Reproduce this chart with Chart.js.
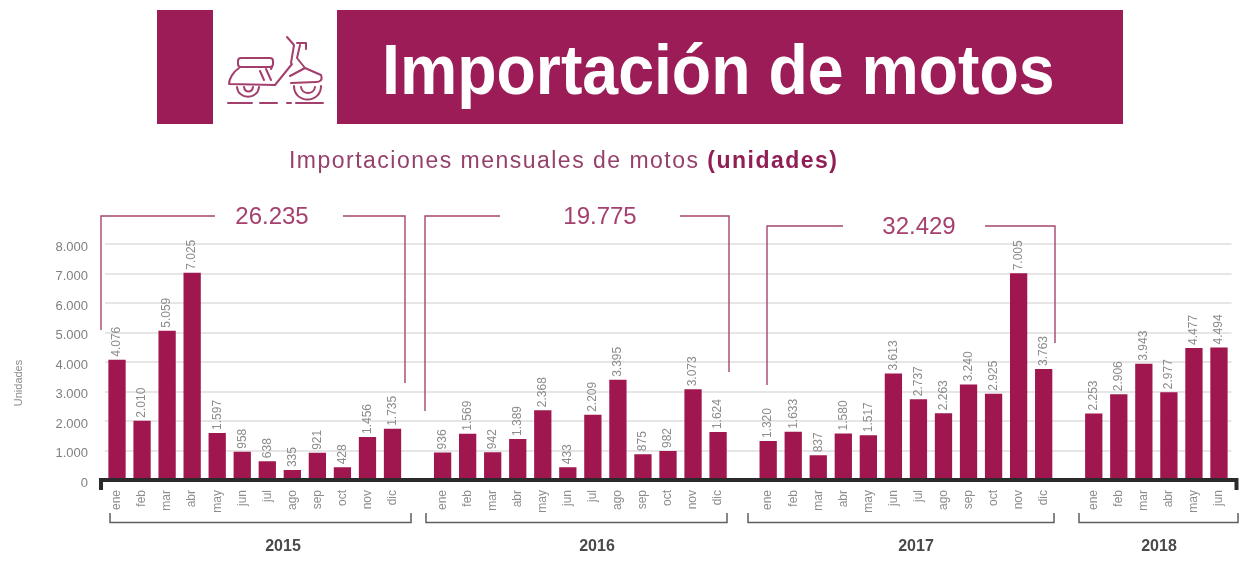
<!DOCTYPE html>
<html lang="es"><head><meta charset="utf-8">
<style>
html,body{margin:0;padding:0;background:#fff;overflow:hidden}
#wrap{position:relative;width:1248px;height:561px;font-family:"Liberation Sans",Arial,sans-serif}
.band{position:absolute;background:#9b1c56}
#title{position:absolute;left:382px;top:30px;font:bold 70px "Liberation Sans",Arial,sans-serif;color:#fff;white-space:nowrap;transform:scaleX(.92);transform-origin:0 0}
#sub{position:absolute;left:289px;top:147px;font:23px "Liberation Sans",Arial,sans-serif;color:#96406c;white-space:nowrap;letter-spacing:1.48px}
#sub b{color:#8f1f54}
#icon{position:absolute;left:0;top:0}
canvas{position:absolute;left:0;top:0}
</style></head><body>
<div id="wrap">
<canvas id="c" width="1248" height="561"></canvas>
<div class="band" style="left:157px;top:10px;width:56px;height:114px"></div>
<div class="band" style="left:337px;top:10px;width:786px;height:114px"></div>
<svg id="icon" width="1248" height="140" fill="none" stroke="#a33f6c" stroke-width="2" stroke-linecap="round" stroke-linejoin="round">
<path d="M228 103h24M260 103h17M287 103h4M296 103h27"/>
<rect x="238" y="58" width="35" height="9" rx="3"/>
<path d="M239 68C233 72 229 79 229 84L275 85L292 64"/>
<path d="M260 71l4 9M266 69l5 11M272 67l-1 2"/>
<path d="M287 37L294 45L291 63M297 43H306V49M300 45L297 58L305 68L321 75C323 80 320 82 316 82L291 83"/>
<path d="M290 76L305 68"/>
<path d="M237 87C238 100 258 100 259 87M244 87C245 93 252 93 253 87"/>
<path d="M294 86C294 104 321 104 321 86M301 87C302 95 314 95 315 87"/>
</svg>
<div id="title">Importación de motos</div>
<div id="sub">Importaciones mensuales de motos <b>(unidades)</b></div>
</div>
<script src="https://cdn.jsdelivr.net/npm/chart.js@4"></script>
<script>
const months = ["ene","feb","mar","abr","may","jun","jul","ago","sep","oct","nov","dic"];
const months2018 = ["ene","feb","mar","abr","may","jun"];
const values2015 = [4076,2010,5059,7025,1597,958,638,335,921,428,1456,1735];
const values2016 = [936,1569,942,1389,2368,433,2209,3395,875,982,3073,1624];
const values2017 = [1320,1633,837,1580,1517,3613,2737,2263,3240,2925,7005,3763];
const values2018 = [2253,2906,3943,2977,4477,4494];
const yTicks = [0,1000,2000,3000,4000,5000,6000,7000,8000];
const yearLabels = ["2015","2016","2017","2018"];
const totals = ["26.235","19.775","32.429"];

const categories = [...months," ",...months," ",...months," ",...months2018];
const series = [...values2015,null,...values2016,null,...values2017,null,...values2018];
const fmt = v => String(v).replace(/\B(?=(\d{3})+(?!\d))/g,".");

const GREY = "#8c8c8c", ACC = "#a5456f", BAR = "#a0164f";

const decor = {
  id:"decor",
  afterDraw(ch){
    const c = ch.ctx, y = ch.scales.y;
    c.save();
    c.fillStyle = GREY; c.font = '12px "Liberation Sans"'; c.textAlign="left"; c.textBaseline="middle";
    ch.getDatasetMeta(0).data.forEach((el,i)=>{
      if(series[i]==null) return;
      c.save(); c.translate(el.x,el.y-3); c.rotate(-Math.PI/2); c.fillText(fmt(series[i]),0,0); c.restore();
    });
    c.fillStyle="#808080"; c.font='13px "Liberation Sans"'; c.textAlign="right";
    yTicks.forEach(t=>c.fillText(fmt(t),88,y.getPixelForValue(t)+3));
    c.save(); c.translate(19,383); c.rotate(-Math.PI/2); c.textAlign="center";
    c.font='11px "Liberation Sans Narrow","Liberation Sans"'; c.fillStyle="#8c8c8c"; c.fillText("Unidades",0,0); c.restore();
    c.strokeStyle="#2a2a2a"; c.lineWidth=4; c.beginPath();
    c.moveTo(101,478); c.lineTo(101,490); c.moveTo(1236.5,478); c.lineTo(1236.5,490); c.stroke();
    c.beginPath(); c.moveTo(99,y.getPixelForValue(0)); c.lineTo(1238,y.getPixelForValue(0)); c.stroke();
    const yb=[[110,411,283],[426,727,597],[748,1054,916],[1079,1238,1159]];
    c.strokeStyle="#5f5f5f"; c.lineWidth=1.5;
    c.textAlign="center"; c.font='bold 16px "Liberation Sans"'; c.fillStyle="#4a4a4a";
    yb.forEach((b,i)=>{
      c.beginPath(); c.moveTo(b[0],513); c.lineTo(b[0],522.5); c.lineTo(b[1],522.5); c.lineTo(b[1],513); c.stroke();
      c.fillText(yearLabels[i],b[2],547);
    });
    const tb=[[101,330,215,343,405,383,216,272],[425,411,500,680,729,372,216,600],[767,385,843,985,1055,343,226,919]];
    c.strokeStyle=ACC; c.lineWidth=1.4; c.fillStyle="#a5406f"; c.font='24px "Liberation Sans"';
    tb.forEach((b,i)=>{
      c.beginPath(); c.moveTo(b[0],b[1]); c.lineTo(b[0],b[6]); c.lineTo(b[2],b[6]);
      c.moveTo(b[3],b[6]); c.lineTo(b[4],b[6]); c.lineTo(b[4],b[5]); c.stroke();
      c.fillText(totals[i],b[7],b[6]+1);
    });
    c.restore();
  }
};

new Chart(document.getElementById("c"),{
  type:"bar",
  data:{labels:categories,datasets:[{data:series,backgroundColor:BAR,barPercentage:.69,categoryPercentage:1}]},
  plugins:[decor],
  options:{
    responsive:false,animation:false,
    layout:{padding:{left:0,right:16.5,top:244,bottom:0}},
    plugins:{legend:{display:false},tooltip:{enabled:false},title:{display:false}},
    scales:{
      x:{
        grid:{display:false,drawTicks:false},border:{display:false},
        ticks:{minRotation:90,maxRotation:90,autoSkip:false,padding:10,color:GREY,font:{size:12,family:'"Liberation Sans"'}},
        afterFit(s){s.height=81;s.paddingLeft=0;s.paddingRight=0;}
      },
      y:{
        min:0,max:8000,
        grid:{color:"#e6e6e6",lineWidth:2,drawTicks:false},border:{display:false},
        ticks:{display:false,stepSize:1000},
        afterFit(s){s.width=104.5;}
      }
    }
  }
});
</script>
</body></html>
